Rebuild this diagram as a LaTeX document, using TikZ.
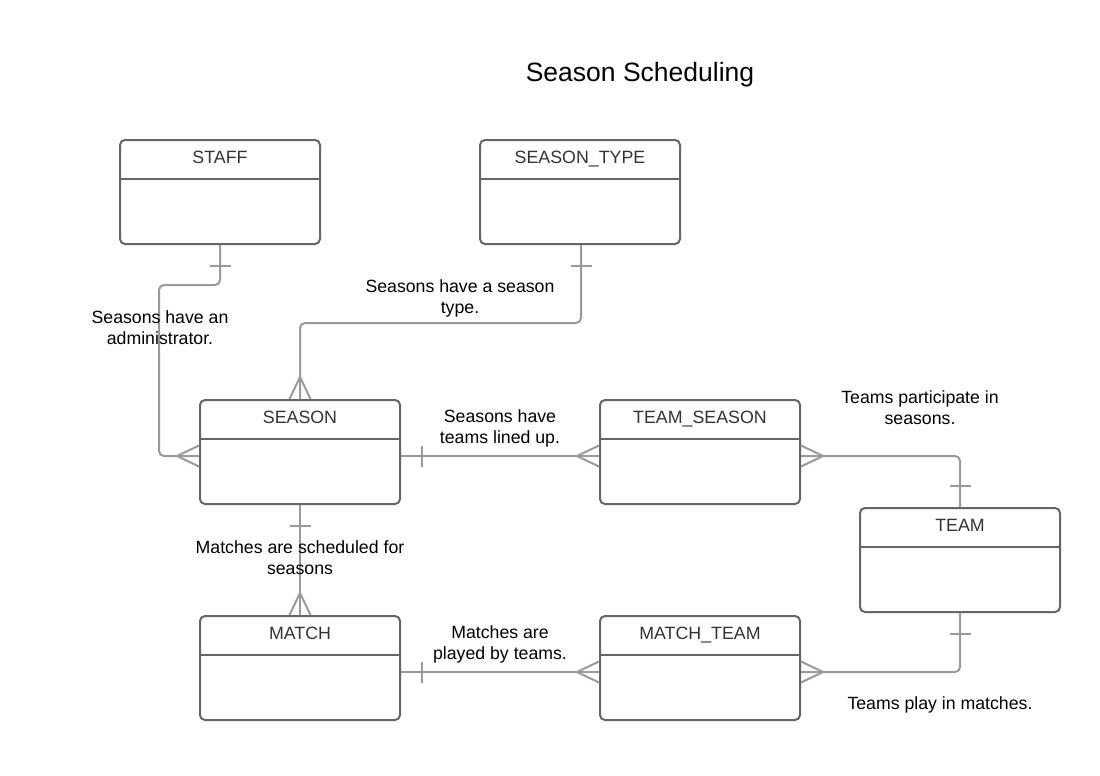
\documentclass[tikz,border=0pt]{standalone}
\usepackage{fontspec}
\setmainfont{Liberation Sans}
\definecolor{linegray}{HTML}{9A9A9A}
\definecolor{boxgray}{HTML}{666666}
\definecolor{titlegray}{HTML}{333333}
\begin{document}
\begin{tikzpicture}[x=1pt,y=-1pt,
  entity/.style={draw=boxgray, line width=2pt, rounded corners=5pt, minimum width=200pt,
    inner sep=0pt, text height=23.5pt, text depth=80.5pt, text=titlegray,
    font=\fontsize{17.8}{21}\selectfont},
  headline/.style={draw=boxgray, line width=2pt},
  conn/.style={draw=linegray, line width=2pt, rounded corners=5pt},
  endmark/.style={draw=linegray, line width=2pt},
  lbl/.style={align=center, font=\fontsize{17.7}{21}\selectfont, text=black, inner sep=0pt},
  ercrow/.pic={\draw[endmark] (-22,0) -- (0,10.5) (-22,0) -- (0,-10.5);},
  erbar/.pic={\draw[endmark] (-21,-10.5) -- (-21,10.5);}
]
\fill[white] (0,0) rectangle (1100,776);
\useasboundingbox (0,0) rectangle (1100,776);

\node[font=\fontsize{26.5}{30}\selectfont, text=black] (title) at (640,75) {Season Scheduling};

% entities
\node[entity] (staff) at (220,192) {STAFF};
\node[entity] (seasontype) at (580,192) {SEASON\_TYPE};
\node[entity] (season) at (300,452) {SEASON};
\node[entity] (teamseason) at (700,452) {TEAM\_SEASON};
\node[entity] (team) at (960,560) {TEAM};
\node[entity] (match) at (300,668) {MATCH};
\node[entity] (matchteam) at (700,668) {MATCH\_TEAM};
\foreach \n in {staff,seasontype,season,teamseason,team,match,matchteam}{
  \draw[headline] ([yshift=-40pt]\n.north west) -- ([yshift=-40pt]\n.north east);
}

% connectors
\coordinate (c1) at (159,456);
\draw[conn] (staff.south) -- ++(0,40) -| (c1) -- ([yshift=-4pt]season.west);
\draw[conn] ([xshift=1pt]seasontype.south) -- ++(0,78) -| (season.north);
\draw[conn] ([yshift=-4pt]season.east) -- ([yshift=-4pt]teamseason.west);
\draw[conn] ([yshift=-4pt]teamseason.east) -| (team.north);
\draw[conn] (season.south) -- (match.north);
\draw[conn] ([yshift=-4pt]match.east) -- ([yshift=-4pt]matchteam.west);
\draw[conn] (team.south) |- ([yshift=-4pt]matchteam.east);

% end marks
\pic[rotate=90] at (staff.south) {erbar};
\pic at ([yshift=-4pt]season.west) {ercrow};
\pic[rotate=90] at ([xshift=1pt]seasontype.south) {erbar};
\pic[rotate=-90] at (season.north) {ercrow};
\pic[rotate=180] at ([yshift=-4pt]season.east) {erbar};
\pic at ([yshift=-4pt]teamseason.west) {ercrow};
\pic[rotate=180] at ([yshift=-4pt]teamseason.east) {ercrow};
\pic[rotate=-90] at (team.north) {erbar};
\pic[rotate=90] at (season.south) {erbar};
\pic[rotate=-90] at (match.north) {ercrow};
\pic[rotate=180] at ([yshift=-4pt]match.east) {erbar};
\pic at ([yshift=-4pt]matchteam.west) {ercrow};
\pic[rotate=90] at (team.south) {erbar};
\pic[rotate=180] at ([yshift=-4pt]matchteam.east) {ercrow};

% labels
\node[lbl] (l1) at (160,328) {Seasons have an\\administrator.};
\node[lbl] (l2) at (460,298) {Seasons have a season\\type.};
\node[lbl] (l3) at (500,428) {Seasons have\\teams lined up.};
\node[lbl] (l4) at (920,408) {Teams participate in\\seasons.};
\node[lbl] (l5) at (300,558) {Matches are scheduled for\\seasons};
\node[lbl] (l6) at (500,644) {Matches are\\played by teams.};
\node[lbl] (l7) at (940,705) {Teams play in matches.};
\end{tikzpicture}
\end{document}
